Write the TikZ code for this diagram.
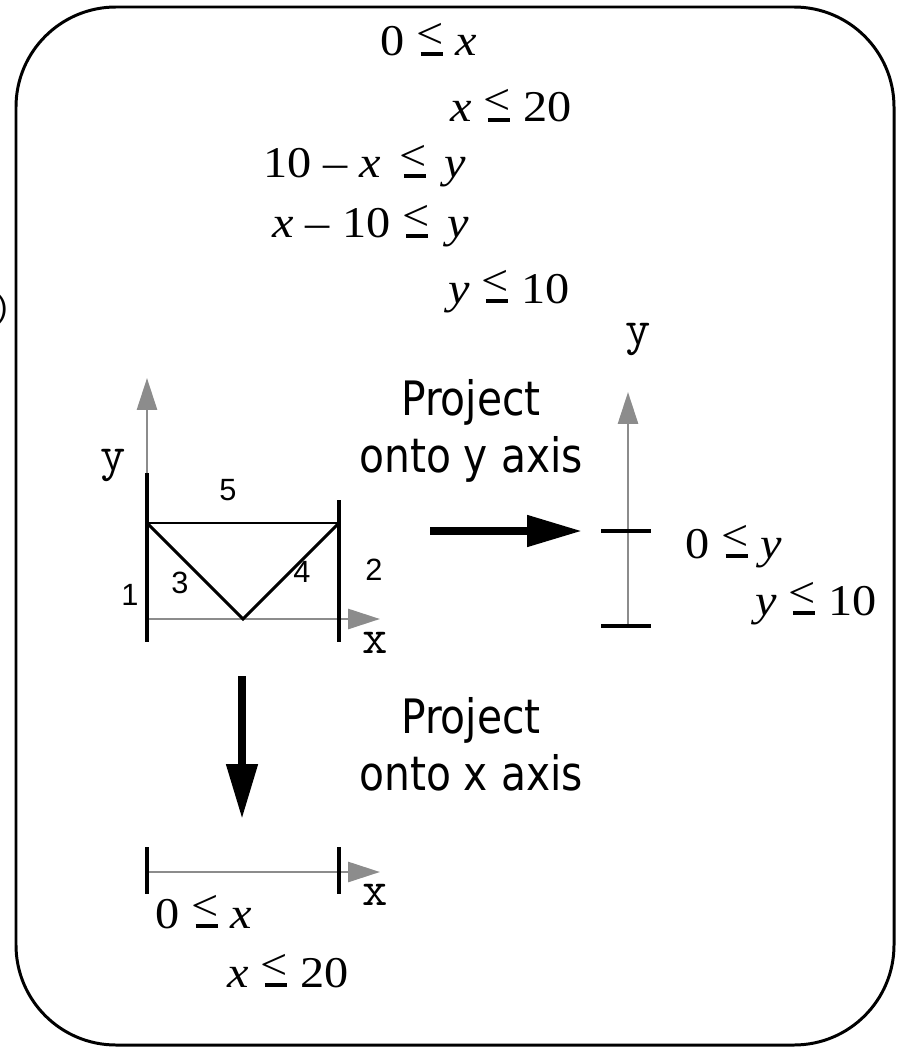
\documentclass[tikz,border=0pt]{standalone}
\usepackage{fontspec}
\usepackage{xcolor}
\usepackage{tikz}
\usetikzlibrary{positioning,arrows.meta}
\newfontfamily\eqfont[FakeStretch=1.1]{Liberation Serif}
\newfontfamily\lblfont[FakeStretch=0.86]{DejaVu Sans}
\newfontfamily\numfont{Liberation Sans}
\definecolor{axgray}{RGB}{140,140,140}
\newcommand{\lesym}{\raisebox{0.16em}{<}\kern-0.53em\rule{0.5em}{0.08em}\kern0.03em}
\tikzset{
  eqn/.style={font=\eqfont\fontsize{25}{28}\selectfont,inner sep=0pt,anchor=base west},
  lbl/.style={font=\lblfont\fontsize{27}{32.4}\selectfont,align=center,inner sep=0pt,anchor=base},
  num/.style={font=\numfont\fontsize{17.5}{20}\selectfont,inner sep=0pt},
  axl/.style={font=\ttfamily\fontsize{28}{30}\selectfont,inner sep=0pt},
  axis/.style={draw=axgray,line width=1.6pt,-{Triangle[length=0.64cm,width=0.4cm,fill=axgray]}},
  bar/.style={line width=2.3pt},
  bigarr/.style={line width=4.5pt,-{Triangle[length=1.1cm,width=0.6cm]}},
}

\begin{document}
\begin{tikzpicture}[x=0.02cm,y=-0.02cm]
  \useasboundingbox (0,0) rectangle (907,1047);
  \draw[line width=1.7pt,rounded corners=2cm] (16,7) rectangle (894,1045);
  \node[num,anchor=east] (cut) at (8,310) {)};
  % constraints
  \node[eqn] (c1) at (380,56) {0 \lesym{} \textit{x}};
  \node[eqn] (c2) at (450,122) {\textit{x} \lesym{} 20};
  \node[eqn] (c3) at (263,178) {10 – \textit{x}\hspace{0.42em}\lesym\hspace{0.4em}\textit{y}};
  \node[eqn] (c4) at (272,238) {\textit{x} – 10 \lesym\hspace{0.4em}\textit{y}};
  \node[eqn] (c5) at (448,303) {\textit{y} \lesym{} 10};
  % region
  \coordinate (o) at (147,619);
  \coordinate (a) at (147,523);
  \coordinate (b) at (339,523);
  \coordinate (v) at (243,619);
  \draw[axis] (o) -- (147,378);
  \draw[axis] (o) -- (380,619);
  \draw[bar] (147,473) -- (147,642);
  \draw[bar] (339,500) -- (339,642);
  \draw[line width=1.1pt] (a) -- (b);
  \draw[line width=1.8pt] (a) -- (v) -- (b);
  \node[axl] (ly) at (113,466) {y};
  \node[axl] (lx) at (375,643) {x};
  \node[num] (n5) at (228,490) {5};
  \node[num] (n3) at (180,583) {3};
  \node[num] (n4) at (302,572) {4};
  \node[num] (n1) at (130,595) {1};
  \node[num] (n2) at (374,570) {2};
  % projection onto y
  \node[lbl] (py) at (471,472) {Project\\onto y axis};
  \coordinate (yb) at (628,626);
  \coordinate (yt) at (628,531);
  \draw[axis] (yb) -- (628,392);
  \draw[bar] (601,531) -- (651,531);
  \draw[bar] (601,626) -- (651,626);
  \coordinate (ps) at (430,531);
  \coordinate (pe) at (582,531);
  \draw[bigarr] (ps) -- (pe);
  \node[axl] (ry) at (638,340) {y};
  \node[eqn] (r1) at (685,558) {0 \lesym{} \textit{y}};
  \node[eqn] (r2) at (755,615) {\textit{y} \lesym{} 10};
  % projection onto x
  \node[lbl] (px) at (471,790) {Project\\onto x axis};
  \coordinate (ds) at (242,676);
  \coordinate (de) at (242,819);
  \draw[bigarr] (ds) -- (de);
  \coordinate (xl) at (147,872);
  \draw[axis] (xl) -- (380,872);
  \draw[bar] (147,847) -- (147,894);
  \draw[bar] (339,847) -- (339,894);
  \node[axl] (bx) at (375,895) {x};
  \node[eqn] (b1) at (155,928) {0 \lesym{} \textit{x}};
  \node[eqn] (b2) at (227,987) {\textit{x} \lesym{} 20};
\end{tikzpicture}
\end{document}
